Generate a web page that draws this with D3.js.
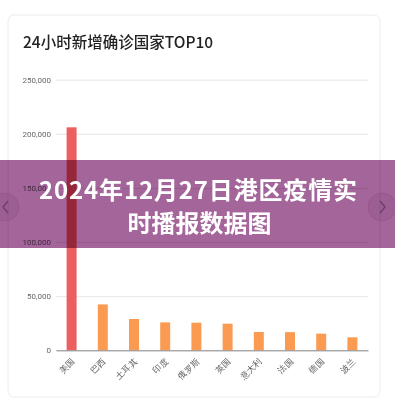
<!DOCTYPE html>
<html>
<head>
<meta charset="utf-8">
<script src="https://cdn.jsdelivr.net/npm/d3@7"></script>
<style>
  html, body { margin: 0; padding: 0; background: #fff; }
  svg { display: block; font-family: "Noto Sans CJK SC", "Noto Sans", sans-serif; }
</style>
</head>
<body>
<div id="chart"></div>
<script>
const countries = ['美国', '巴西', '土耳其', '印度', '俄罗斯', '英国', '意大利', '法国', '德国', '波兰'];
const newCases = [206000, 42400, 28900, 25800, 25500, 24600, 16900, 16800, 15400, 12000];
const yTicks = [0, 50000, 100000, 150000, 200000, 250000];
const chartTitle = '24小时新增确诊国家TOP10';
const bannerLines = ['2024年12月27日港区疫情实', '时播报数据图'];

const W = 395, H = 409;
const margin = { top: 79.7, right: 27, bottom: 58.7, left: 56 };

const svg = d3.select('#chart')
  .append('svg')
  .attr('width', W)
  .attr('height', H);

// card
svg.append('rect')
  .attr('x', 8).attr('y', 15)
  .attr('width', 372).attr('height', 382)
  .attr('rx', 6)
  .attr('fill', '#fff')
  .attr('stroke', '#ececec');

// title
svg.append('text')
  .attr('x', 23).attr('y', 48)
  .attr('font-size', 15.5)
  .attr('font-weight', 500)
  .attr('fill', '#222')
  .text(chartTitle);

const x = d3.scaleBand()
  .domain(countries)
  .range([margin.left, W - margin.right])
  .paddingInner(0.68)
  .paddingOuter(0.34);

const y = d3.scaleLinear()
  .domain([0, 250000])
  .range([H - margin.bottom, margin.top]);

// gridlines + y labels
const yAxis = svg.append('g')
  .attr('class', 'y-axis')
  .attr('transform', `translate(${margin.left},0)`)
  .call(d3.axisLeft(y).tickValues(yTicks).tickSize(-(W - margin.left - margin.right)).tickPadding(5).tickFormat(d3.format(',')));
yAxis.select('.domain').remove();
yAxis.selectAll('.tick line').attr('stroke', '#e6e6e6');
yAxis.selectAll('.tick text')
  .attr('fill', '#666')
  .attr('font-size', 8)
  .attr('font-family', 'Roboto, sans-serif');

// bars
svg.selectAll('.bar')
  .data(countries)
  .enter()
  .append('rect')
  .attr('class', 'bar')
  .attr('x', (d) => x(d))
  .attr('y', (d, i) => y(newCases[i]))
  .attr('width', x.bandwidth())
  .attr('height', (d, i) => y(0) - y(newCases[i]))
  .attr('fill', (d, i) => i === 0 ? '#ec5f5f' : '#fb9b52');

// x axis
const xAxis = svg.append('g')
  .attr('class', 'x-axis')
  .attr('transform', `translate(0,${y(0)})`)
  .call(d3.axisBottom(x).tickSize(0).tickPadding(0));
xAxis.select('.domain').attr('stroke', '#8a8a8a').attr('stroke-width', 1);
xAxis.selectAll('.tick text')
  .attr('fill', '#555')
  .attr('font-size', 8.5)
  .attr('text-anchor', 'end')
  .attr('dy', 0)
  .attr('transform', 'translate(4,11) rotate(-45)');

// banner overlay
const banner = svg.append('g');
banner.append('rect')
  .attr('x', 0).attr('y', 160)
  .attr('width', W).attr('height', 88)
  .attr('fill', '#a3659a')
  .style('mix-blend-mode', 'multiply');

[[5, 207, 'M8,201 L3,207 L8,213'], [382, 207, 'M380,201 L385,207 L380,213']].forEach(([cx, cy, p]) => {
  banner.append('circle')
    .attr('cx', cx).attr('cy', cy).attr('r', 14)
    .attr('fill', 'rgba(90,30,80,0.08)')
    .attr('stroke', 'rgba(90,30,80,0.12)');
  banner.append('path')
    .attr('d', p)
    .attr('fill', 'none')
    .attr('stroke', '#6e3c69')
    .attr('stroke-width', 1.3);
});

banner.append('text')
  .attr('x', 198).attr('y', 199)
  .attr('text-anchor', 'middle')
  .attr('font-size', 24)
  .attr('font-weight', 700)
  .attr('fill', '#fff')
  .attr('textLength', 318)
  .attr('lengthAdjust', 'spacing')
  .text(bannerLines[0]);
banner.append('text')
  .attr('x', 199.5).attr('y', 232)
  .attr('text-anchor', 'middle')
  .attr('font-size', 24)
  .attr('font-weight', 700)
  .attr('fill', '#fff')
  .text(bannerLines[1]);
</script>
</body>
</html>
